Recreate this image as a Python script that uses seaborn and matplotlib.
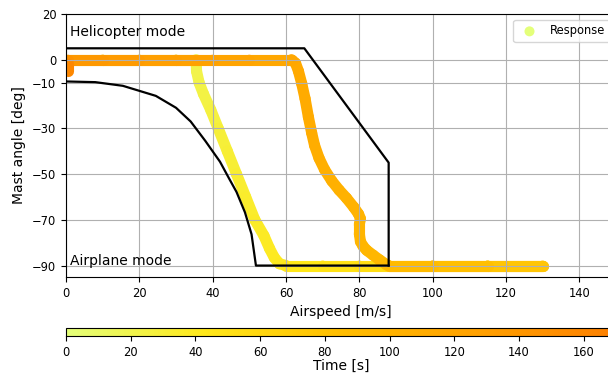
import numpy as np
import matplotlib
matplotlib.use("Agg")
import matplotlib.pyplot as plt
import seaborn as sns
from matplotlib.collections import LineCollection

# Boundary of the conversion corridor
upper_speed = [0, 65, 88, 88]
upper_angle = [5, 5, -45, -90]
lower_speed = [0, 8, 15.5, 24.5, 30, 34, 38, 42, 44.5, 46.5, 48.8, 50.6, 51.8, 88]
lower_angle = [-9.5, -9.8, -11.4, -15.8, -21, -27, -35.5, -44.6, -52, -57.8, -66.7, -76.3, -90, -90]

# Response trajectory
resp_speed = [0, 10, 20, 30, 35.5,
              35.6, 36.3, 37.5, 39.5, 41.5, 44, 46.5, 49, 51.5, 54, 55.5, 56.8, 58.2, 60,
              70, 80, 88, 100, 115, 130,
              115, 100, 88,
              87.4, 85.5, 83.8, 82, 81, 80.3, 80, 80, 80.3, 79.8, 78.5, 76.5, 74.5, 72.5,
              70.5, 69, 67.8, 67, 66.1, 65.2, 64.3, 63.4, 62.6, 61.5,
              50, 40, 30, 20, 10, 0.5,
              0.5, 0.5]
resp_angle = [0, 0, 0, 0, 0,
              -5, -10, -15, -22, -30, -40, -50, -60, -70, -77, -82.5, -86.5, -89.2, -90,
              -90, -90, -90, -90, -90, -90,
              -90, -90, -90,
              -89.6, -87.5, -85.5, -83.3, -81.5, -79.5, -76, -72, -69.5, -67.5, -64.5, -60.5, -57, -53,
              -48, -43, -37.5, -32, -25, -17, -10.5, -5, -1.5, 0,
              0, 0, 0, 0, 0, 0,
              -2, -5]
resp_time = [0, 6, 11, 17, 20,
             21, 22, 23.5, 25.5, 27.5, 30, 32, 34, 36, 37.5, 38.5, 39.3, 40, 41,
             46, 51, 55, 61, 68, 75,
             80, 85, 90,
             90.5, 91.8, 93, 94, 95, 95.5, 96, 97, 98, 99, 100, 101, 102, 103,
             105, 106, 107.5, 108.5, 110, 111, 112.5, 113.5, 114.3, 115,
             119, 123, 127, 131, 135, 140,
             150, 170]

x_ticks = [0, 20, 40, 60, 80, 100, 120, 140]
y_ticks = [20, 0, -10, -30, -50, -70, -90]
cb_ticks = [0, 20, 40, 60, 80, 100, 120, 140, 160]

fig = plt.figure(figsize=(6.08, 3.73), dpi=100)
ax = fig.add_axes([66 / 608, 96 / 373, 550 / 608, 263 / 373])

sc = ax.scatter(resp_speed, resp_angle, c=resp_time, cmap="Wistia", s=52,
                linewidths=0, label="Response", zorder=1)
pts = np.column_stack([resp_speed, resp_angle])
segs = np.stack([pts[:-1], pts[1:]], axis=1)
t = np.asarray(resp_time, dtype=float)
lc = LineCollection(segs, cmap="Wistia", norm=sc.norm, linewidths=8.0,
                    capstyle="round", joinstyle="round", zorder=1)
lc.set_array((t[:-1] + t[1:]) / 2)
ax.add_collection(lc)

sns.lineplot(x=upper_speed, y=upper_angle, sort=False, estimator=None,
             color="black", lw=1.6, ax=ax)
sns.lineplot(x=lower_speed, y=lower_angle, sort=False, estimator=None,
             color="black", lw=1.6, ax=ax)

ax.set_xlim(0, 150)
ax.set_ylim(-95, 20)
ax.set_xticks(x_ticks)
ax.set_yticks(y_ticks)
ax.tick_params(labelsize=8.3)
ax.grid(True)
ax.set_xlabel("Airspeed [m/s]", fontsize=10)
ax.set_ylabel("Mast angle [deg]", fontsize=10)
ax.text(1.1, 10.3, "Helicopter mode", fontsize=10, va="baseline")
ax.text(1.1, -89.6, "Airplane mode", fontsize=10, va="baseline")
ax.legend(loc="upper right", fontsize=8.3)

cax = fig.add_axes([66 / 608, 37 / 373, 550 / 608, 8.3 / 373])
cb = fig.colorbar(sc, cax=cax, orientation="horizontal")
cb.set_ticks(cb_ticks)
cb.ax.tick_params(labelsize=8.3)
cb.set_label("Time [s]", fontsize=10, labelpad=0)

fig.savefig("out.png", dpi=100)
